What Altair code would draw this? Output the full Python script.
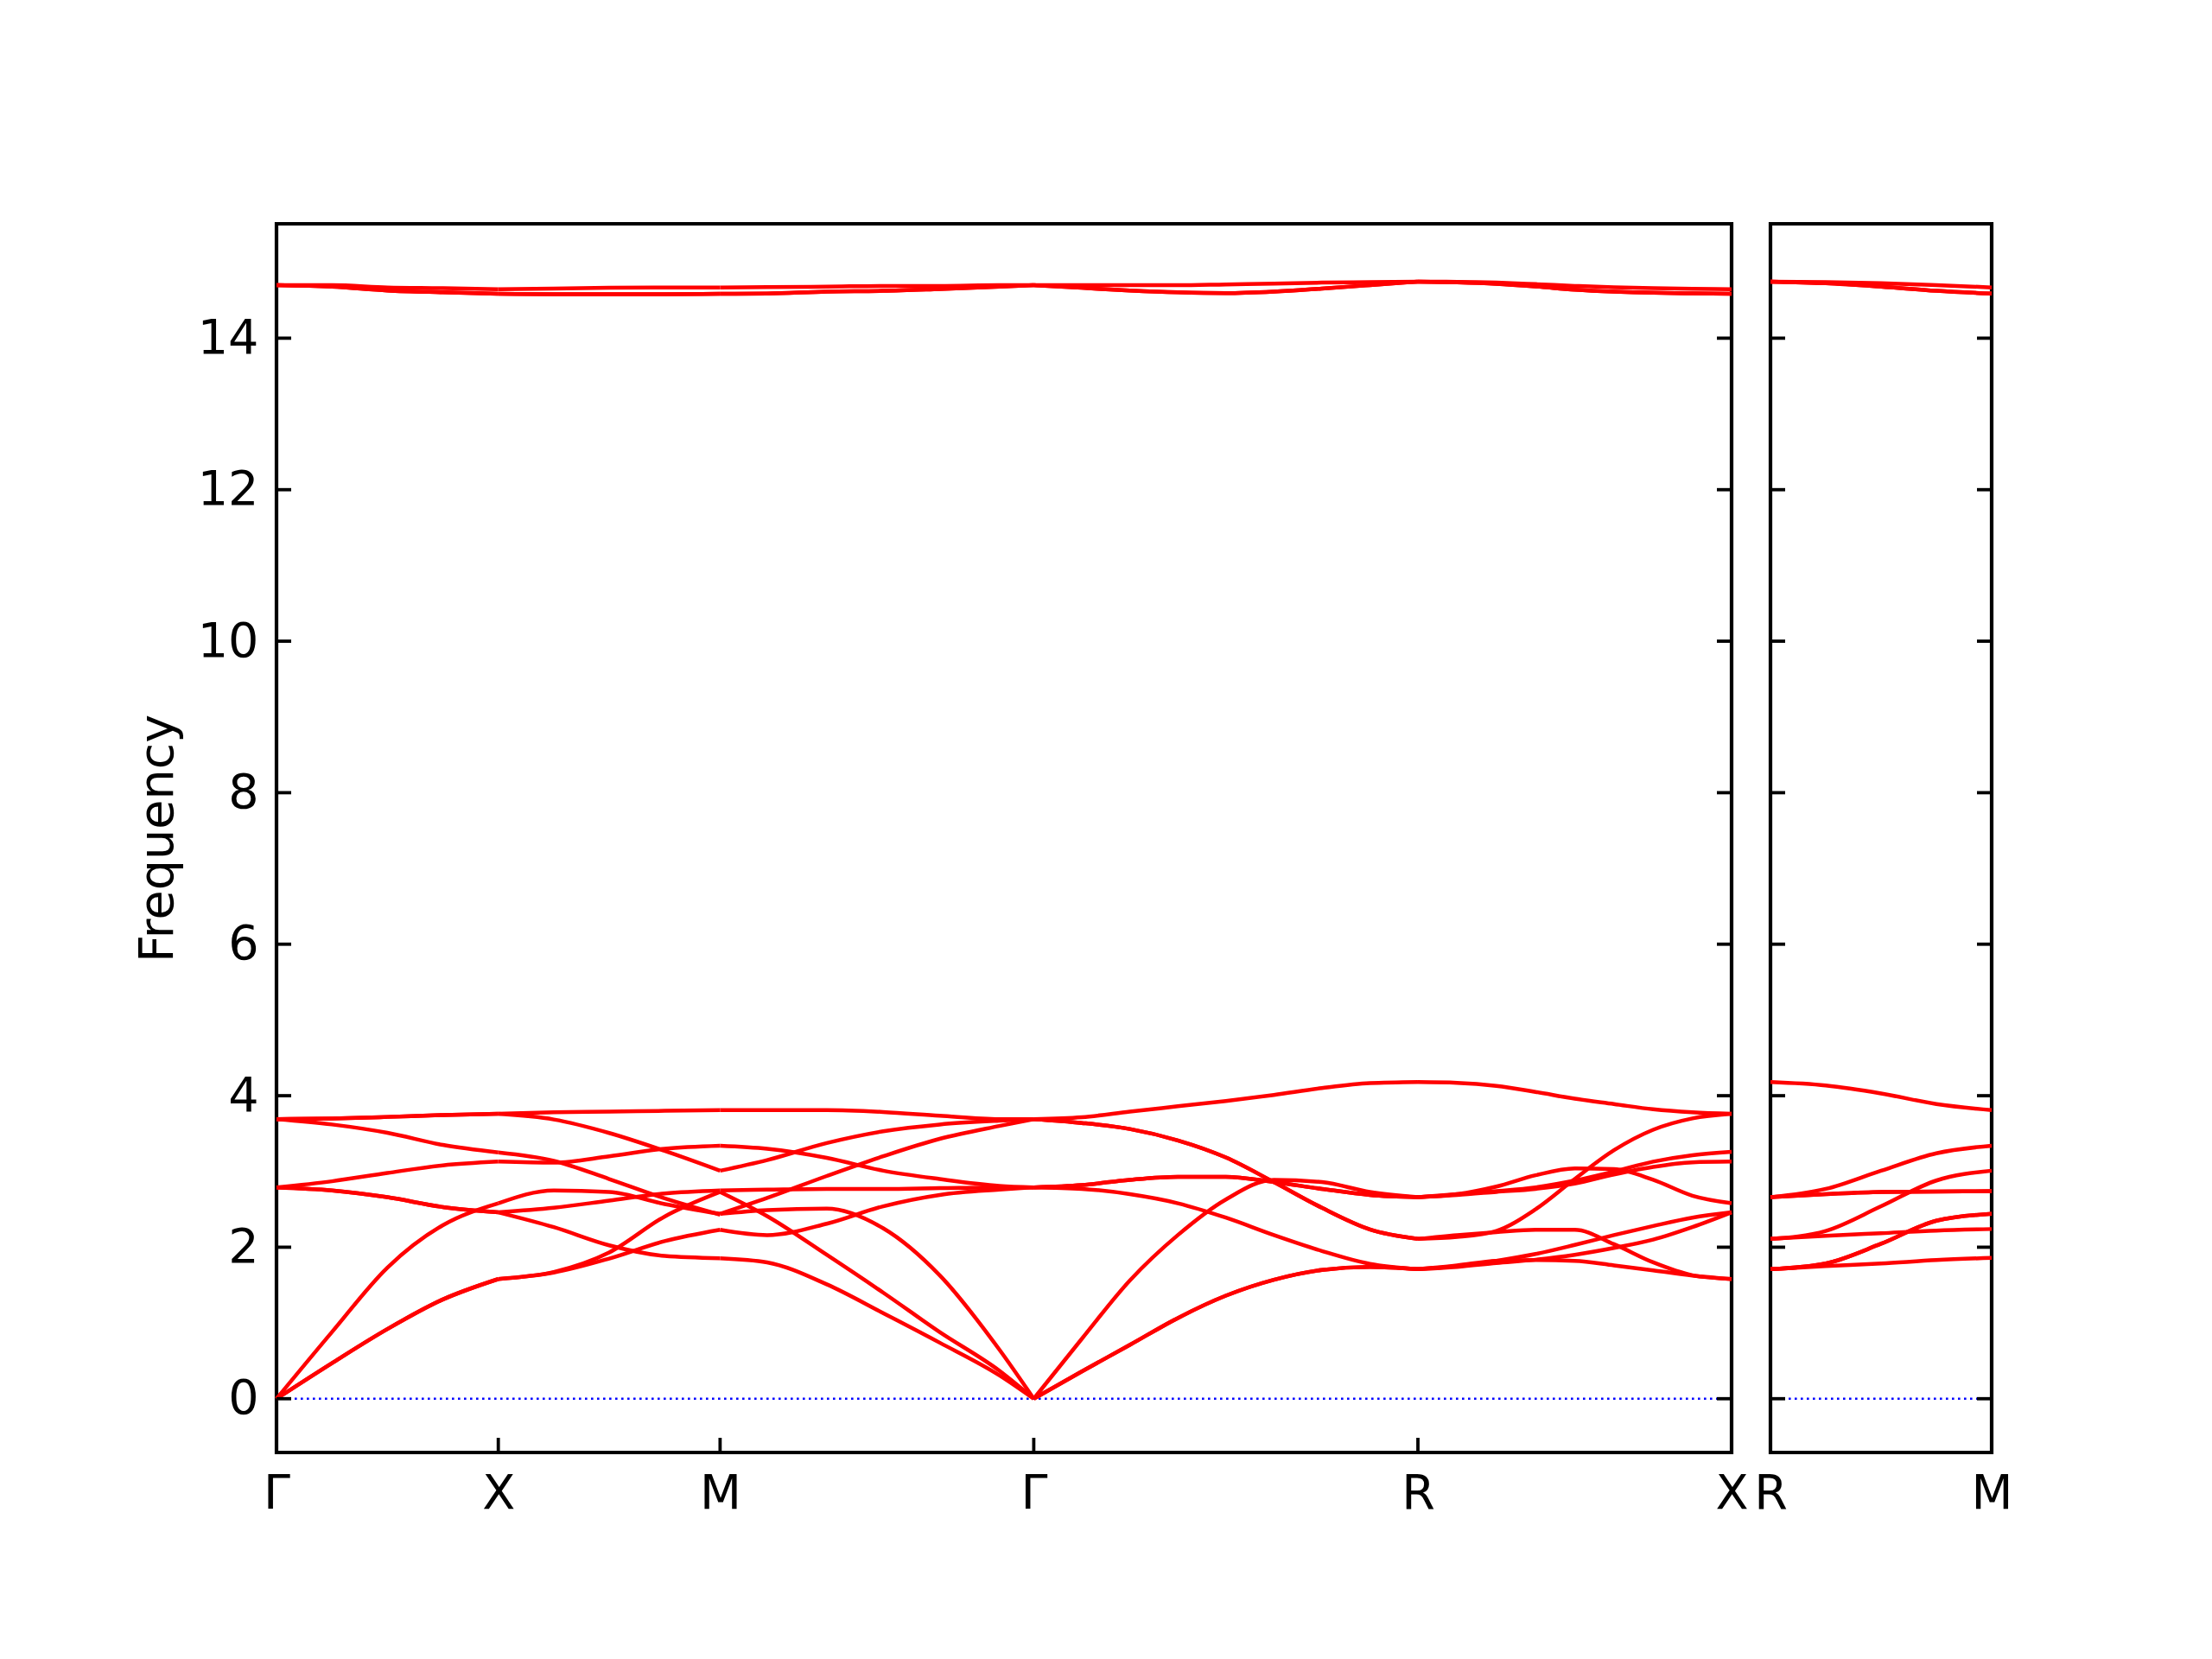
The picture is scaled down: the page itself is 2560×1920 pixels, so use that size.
import numpy as np
import pandas as pd
import altair as alt

# ---------------- k-path (phonon band structure) ----------------
left_labels = ["Γ", "X", "M", "Γ", "R", "X"]
seg_lengths = [1.0, 1.0, float(np.sqrt(2)), float(np.sqrt(3)), float(np.sqrt(2))]
right_labels = ["R", "M"]
right_length = 1.0
y_ticks = [0, 2, 4, 6, 8, 10, 12, 14]
y_domain = [-0.71, 15.51]

# fractional positions of the read samples along each segment
t_GX = [0, 0.25, 0.5, 0.75, 1]
t_XM = [0, 0.25, 0.5, 0.75, 1]
t_MG = [0, 0.15, 0.34, 0.52, 0.70, 0.89, 1]
t_GR = [0, 0.125, 0.25, 0.375, 0.5, 0.625, 0.75, 0.875, 1]
t_RX = [0, 0.125, 0.25, 0.375, 0.5, 0.625, 0.75, 0.875, 1]
t_RM = [0, 0.25, 0.5, 0.75, 1]

# frequencies per band (12 bands) on each segment
GX = [
    [0, 0.47, 0.92, 1.31, 1.58],
    [0, 0.47, 0.92, 1.31, 1.58],
    [0, 0.88, 1.73, 2.29, 2.58],
    [2.79, 2.75, 2.66, 2.53, 2.46],
    [2.79, 2.75, 2.66, 2.53, 2.46],
    [2.79, 2.87, 2.98, 3.08, 3.13],
    [3.69, 3.62, 3.51, 3.35, 3.25],
    [3.69, 3.70, 3.72, 3.745, 3.76],
    [3.69, 3.70, 3.72, 3.745, 3.76],
    [14.70, 14.70, 14.67, 14.66, 14.645],
    [14.70, 14.68, 14.63, 14.605, 14.585],
    [14.70, 14.68, 14.63, 14.605, 14.585],
]
XM = [
    [1.58, 1.665, 1.85, 2.08, 2.23],
    [1.58, 1.672, 1.93, 2.405, 2.73],
    [2.58, 2.75, 2.73, 2.57, 2.44],
    [2.46, 2.265, 2.025, 1.885, 1.855],
    [2.46, 2.52, 2.615, 2.71, 2.75],
    [3.13, 3.116, 3.20, 3.30, 3.34],
    [3.25, 3.14, 2.90, 2.645, 2.43],
    [3.76, 3.78, 3.79, 3.80, 3.81],
    [3.76, 3.686, 3.508, 3.272, 3.01],
    [14.645, 14.655, 14.665, 14.67, 14.67],
    [14.585, 14.58, 14.58, 14.58, 14.585],
    [14.585, 14.58, 14.58, 14.58, 14.585],
]
MG = [
    [2.23, 2.16, 2.31, 2.54, 2.69, 2.76, 2.79],
    [2.73, 2.41, 1.90, 1.40, 0.88, 0.37, 0],
    [2.44, 2.49, 2.51, 2.25, 1.63, 0.65, 0],
    [1.855, 1.80, 1.51, 1.13, 0.74, 0.31, 0],
    [2.75, 2.76, 2.77, 2.77, 2.78, 2.79, 2.79],
    [3.34, 3.30, 3.18, 3.01, 2.90, 2.81, 2.79],
    [2.44, 2.65, 2.94, 3.20, 3.43, 3.60, 3.69],
    [3.81, 3.81, 3.81, 3.785, 3.735, 3.69, 3.69],
    [3.01, 3.15, 3.375, 3.53, 3.62, 3.67, 3.69],
    [14.67, 14.675, 14.68, 14.69, 14.69, 14.70, 14.70],
    [14.585, 14.59, 14.615, 14.625, 14.65, 14.68, 14.70],
    [14.585, 14.59, 14.615, 14.625, 14.65, 14.68, 14.70],
]
GR = [
    [2.79, 2.77, 2.70, 2.58, 2.39, 2.16, 1.95, 1.78, 1.71],
    [0, 0.36, 0.71, 1.065, 1.36, 1.57, 1.70, 1.74, 1.71],
    [0, 0.79, 1.56, 2.16, 2.63, 2.89, 2.86, 2.73, 2.66],
    [0, 0.36, 0.71, 1.065, 1.36, 1.57, 1.70, 1.74, 1.71],
    [2.79, 2.82, 2.89, 2.93, 2.93, 2.86, 2.77, 2.69, 2.66],
    [2.79, 2.82, 2.89, 2.93, 2.93, 2.86, 2.77, 2.69, 2.66],
    [3.69, 3.64, 3.56, 3.41, 3.185, 2.86, 2.52, 2.235, 2.11],
    [3.69, 3.716, 3.79, 3.86, 3.93, 4.01, 4.10, 4.165, 4.18],
    [3.69, 3.64, 3.56, 3.41, 3.185, 2.86, 2.52, 2.235, 2.11],
    [14.70, 14.70, 14.70, 14.70, 14.71, 14.72, 14.733, 14.74, 14.747],
    [14.70, 14.665, 14.63, 14.605, 14.595, 14.615, 14.655, 14.70, 14.747],
    [14.70, 14.665, 14.63, 14.605, 14.595, 14.615, 14.655, 14.70, 14.747],
]
RX = [
    [1.71, 1.75, 1.82, 1.91, 2.03, 2.16, 2.28, 2.39, 2.46],
    [1.71, 1.76, 1.82, 1.83, 1.82, 1.76, 1.695, 1.626, 1.58],
    [2.66, 2.70, 2.80, 2.95, 3.04, 3.03, 2.89, 2.68, 2.58],
    [1.71, 1.74, 1.79, 1.835, 1.90, 1.99, 2.10, 2.265, 2.46],
    [2.66, 2.70, 2.74, 2.79, 2.88, 3.00, 3.13, 3.215, 3.26],
    [2.66, 2.69, 2.73, 2.77, 2.84, 2.96, 3.06, 3.12, 3.13],
    [2.11, 2.16, 2.20, 2.23, 2.23, 2.04, 1.80, 1.63, 1.58],
    [4.18, 4.17, 4.13, 4.05, 3.96, 3.89, 3.82, 3.78, 3.76],
    [2.11, 2.135, 2.215, 2.50, 2.90, 3.28, 3.55, 3.70, 3.76],
    [14.747, 14.744, 14.733, 14.713, 14.69, 14.671, 14.66, 14.652, 14.645],
    [14.747, 14.736, 14.717, 14.683, 14.641, 14.615, 14.599, 14.592, 14.585],
    [14.747, 14.736, 14.717, 14.683, 14.641, 14.615, 14.599, 14.592, 14.585],
]
RM = [
    [1.71, 1.785, 2.045, 2.35, 2.44],
    [1.71, 1.75, 1.785, 1.83, 1.86],
    [2.66, 2.77, 3.01, 3.24, 3.34],
    [1.71, 1.785, 2.045, 2.35, 2.44],
    [2.66, 2.70, 2.73, 2.735, 2.74],
    [2.66, 2.70, 2.73, 2.735, 2.74],
    [2.11, 2.15, 2.185, 2.22, 2.24],
    [4.18, 4.135, 4.03, 3.89, 3.81],
    [2.11, 2.215, 2.54, 2.88, 3.01],
    [14.747, 14.74, 14.725, 14.70, 14.67],
    [14.747, 14.725, 14.68, 14.626, 14.588],
    [14.747, 14.725, 14.68, 14.626, 14.588],
]

# ---------------- build tables ----------------
starts = np.concatenate([[0.0], np.cumsum(seg_lengths)])
left_pos = [float(v) for v in starts]
total_len = float(starts[-1])

rows = []
for s, (tt, bands) in enumerate(zip([t_GX, t_XM, t_MG, t_GR, t_RX], [GX, XM, MG, GR, RX])):
    for b, vals in enumerate(bands):
        for ti, v in zip(tt, vals):
            rows.append({"k": float(starts[s] + ti * seg_lengths[s]), "freq": v, "grp": f"b{b}-s{s}"})
dfL = pd.DataFrame(rows)

rowsR = []
for b, vals in enumerate(RM):
    for ti, v in zip(t_RM, vals):
        rowsR.append({"k": ti * right_length, "freq": v, "grp": f"b{b}"})
dfR = pd.DataFrame(rowsR)

# ---------------- sizes / styles ----------------
H = 1422
W_L = 1684
W_R = 256
FS = 55.6
TICK = 17
RED = "#ff0000"


def label_expr(pos, labels):
    expr = "''"
    for p, l in reversed(list(zip(pos, labels))):
        expr = f"abs(datum.value - {p:.6f}) < 0.001 ? '{l}' : ({expr})"
    return expr


def panel(df, xmax, width, xpos, xlabels, show_y):
    xs = alt.Scale(domain=[0, xmax], nice=False, zero=False)
    ys = alt.Scale(domain=y_domain, nice=False, zero=False)
    xaxis = alt.Axis(values=xpos, labelExpr=label_expr(xpos, xlabels), title=None,
                     ticks=False, domain=False, grid=False, labelFlush=False,
                     labelOverlap=False, labelFontSize=FS, labelPadding=20,
                     labelColor="black", labelFont="DejaVu Sans")
    if show_y:
        yaxis = alt.Axis(values=y_ticks, title="Frequency", ticks=False, domain=False,
                         grid=False, labelFontSize=FS, labelPadding=21, labelColor="black",
                         labelFont="DejaVu Sans", titleFont="DejaVu Sans", titleFontSize=FS,
                         titleFontWeight="normal", titleColor="black", titlePadding=17)
    else:
        yaxis = None

    zero = alt.Chart(pd.DataFrame({"freq": [0.0]})).mark_rule(
        color="#0000ff", strokeWidth=2.4, strokeDash=[2.6, 4.4]
    ).encode(y=alt.Y("freq:Q", scale=ys, axis=yaxis), x=alt.value(0), x2=alt.value(width))

    lines = alt.Chart(df).mark_line(
        color=RED, strokeWidth=4.5, interpolate="monotone"
    ).encode(
        x=alt.X("k:Q", scale=xs, axis=xaxis),
        y=alt.Y("freq:Q", scale=ys, axis=yaxis),
        detail="grp:N",
    )

    ydf = pd.DataFrame({"freq": y_ticks})
    ytl = alt.Chart(ydf).mark_rule(color="black", strokeWidth=3.8).encode(
        y=alt.Y("freq:Q", scale=ys, axis=yaxis), x=alt.value(0), x2=alt.value(TICK))
    ytr = alt.Chart(ydf).mark_rule(color="black", strokeWidth=3.8).encode(
        y=alt.Y("freq:Q", scale=ys, axis=yaxis), x=alt.value(width - TICK), x2=alt.value(width))
    xdf = pd.DataFrame({"k": xpos})
    xt = alt.Chart(xdf).mark_rule(color="black", strokeWidth=3.8).encode(
        x=alt.X("k:Q", scale=xs, axis=xaxis), y=alt.value(H), y2=alt.value(H - TICK))

    return alt.layer(zero, lines, ytl, ytr, xt).properties(width=width, height=H)


left = panel(dfL, total_len, W_L, left_pos, left_labels, True)
right = panel(dfR, right_length, W_R, [0.0, right_length], right_labels, False)

chart = alt.hconcat(left, right, spacing=45, bounds="flush").properties(
    padding={"left": 145, "top": 248, "right": 30, "bottom": 30},
    background="white",
).configure_view(
    stroke="black", strokeWidth=4.2, fill="white"
)

chart.save("out.html", embed_options={"renderer": "svg", "actions": False})
